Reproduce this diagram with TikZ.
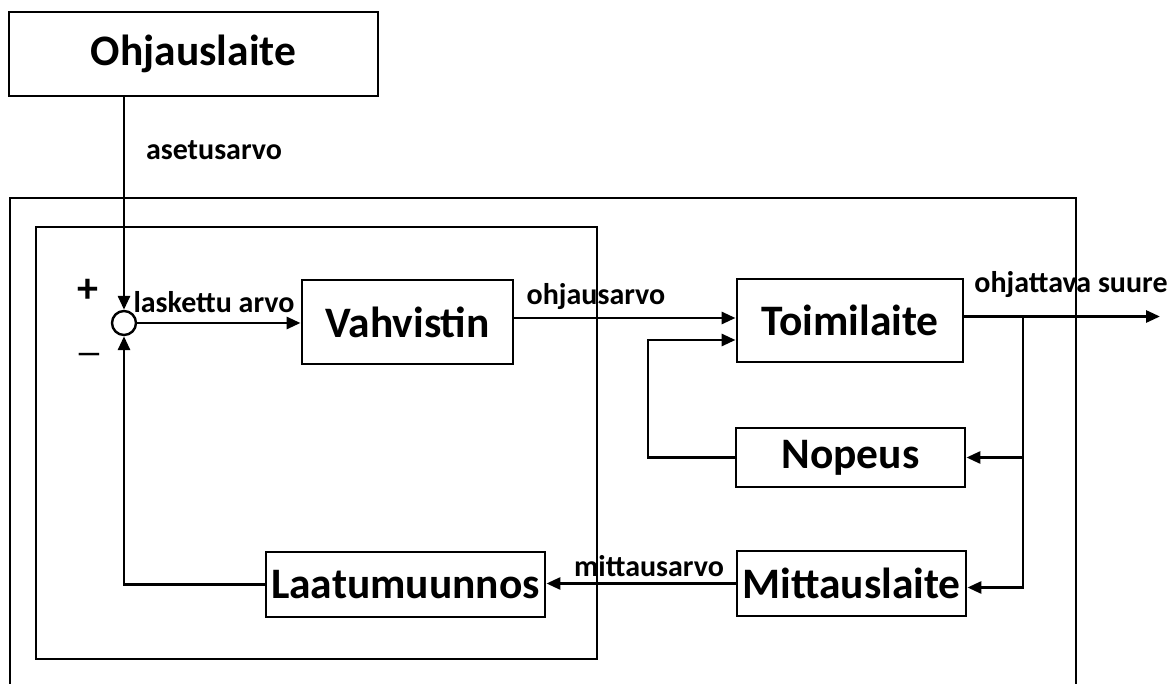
\documentclass[tikz,border=0pt]{standalone}
\usepackage{fontspec}
\setmainfont{Carlito}
\usetikzlibrary{arrows.meta}

\begin{document}
\begin{tikzpicture}[x=1pt, y=-1pt, >={Triangle[length=14pt,width=12pt]}, line width=2.9pt, font=\bfseries]
  \tikzstyle{box}=[draw, align=center, inner sep=2pt, fill=white,
    font=\bfseries\fontsize{43.5}{50}\selectfont]
  \tikzstyle{lbl}=[inner sep=0pt, font=\bfseries\fontsize{30}{36}\selectfont]
  \tikzstyle{sign}=[inner sep=0pt, font=\bfseries\fontsize{42}{48}\selectfont]

  \useasboundingbox (0,0) rectangle (1176,684);

  % Frames
  \draw (10,700) -- (10,198) -- (1076,198) -- (1076,700);
  \draw (36,227) rectangle (597,659);

  % Top: set value
  \node[box, minimum width=369, minimum height=84] (ohj) at (193.5,54) {Ohjauslaite};

  % Left: comparison and amplifier
  \node[draw, circle, minimum size=24, inner sep=0pt, line width=2.4pt] (sum) at (124,323) {};
  \node[box, minimum width=211, minimum height=84] (vahv) at (407.5,322) {Vahvistin};
  \node[box, minimum width=279, minimum height=65] (laat) at (405.5,584.5) {Laatumuunnos};

  % Right: actuator and measurements
  \node[box, minimum width=226, minimum height=83] (toim) at (850,320.5) {Toimilaite};
  \node[box, minimum width=229, minimum height=59] (nop) at (850.5,457.5) {Nopeus};
  \node[box, minimum width=229, minimum height=65] (mitt) at (851.5,583.5) {Mittauslaite};

  \coordinate (fb) at (648,340);
  \coordinate (br) at (1023,316.5);
  \coordinate (out) at (1160,316.5);

  % Labels
  \node[lbl] (aset) at (214,150) {asetusarvo};
  \node[lbl] (lask) at (214,302) {laskettu arvo};
  \node[lbl] (ohjs) at (596,297) {ohjausarvo};
  \node[lbl] (suure) at (1071,285) {ohjattava suure};
  \node[lbl] (mitts) at (649,566) {mittausarvo};
  \node[sign] (plus) at (88,291) {+};
  \node[sign, font=\bfseries\fontsize{28}{32}\selectfont] (minus) at (89,358) {—};

  \draw[->] (sum |- ohj.south) -- (sum.north);
  \draw[->] (sum.east) -- (sum.east -| vahv.west);
  \draw[->] ([yshift=4pt]vahv.east) -- ([yshift=4pt]vahv.east -| toim.west);
  \draw[->] (nop.west) -| (fb) -- (fb -| toim.west);
  \draw[->] ([yshift=4pt]toim.east) -- (out);
  \draw[->] (br) |- (nop.east);
  \draw[->] (br) |- ([yshift=-4pt]mitt.east);
  \draw[->] (mitt.west) -- (mitt.west -| laat.east);
  \draw[->] (laat.west) -| (sum.south);
\end{tikzpicture}
\end{document}
